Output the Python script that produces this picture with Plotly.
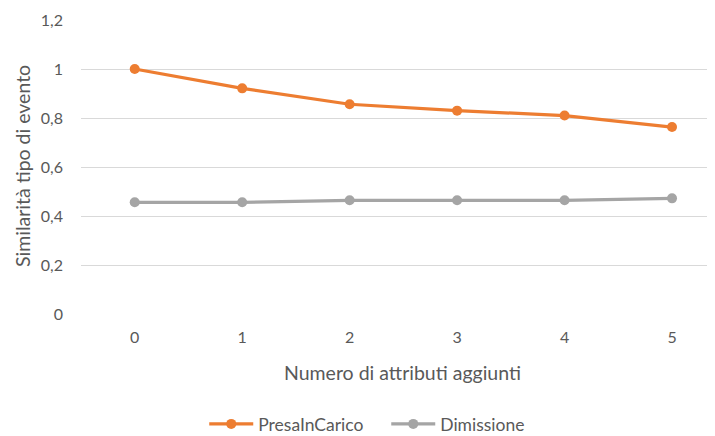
import plotly.graph_objects as go

categories = ["0", "1", "2", "3", "4", "5"]
presa_in_carico = [1.0, 0.921, 0.856, 0.830, 0.810, 0.763]
dimissione = [0.456, 0.456, 0.464, 0.464, 0.464, 0.472]
y_ticks = [0, 0.2, 0.4, 0.6, 0.8, 1.0, 1.2]
y_tick_labels = ["0", "0,2", "0,4", "0,6", "0,8", "1", "1,2"]

FONT = "Lato, 'Open Sans', sans-serif"
TXT = "#595959"

W, H = 707, 428
L, T, R, B = 73, 12, 0, 122
PW, PH = W - L - R, H - T - B

x_idx = list(range(len(categories)))

fig = go.Figure()
fig.add_trace(go.Scatter(x=x_idx, y=presa_in_carico, name="PresaInCarico",
                         mode="lines+markers",
                         line=dict(color="#ED7D31", width=3.2),
                         marker=dict(color="#ED7D31", size=10)))
fig.add_trace(go.Scatter(x=x_idx, y=dimissione, name="Dimissione",
                         mode="lines+markers",
                         line=dict(color="#A5A5A5", width=3.2),
                         marker=dict(color="#A5A5A5", size=10)))

fig.update_layout(
    width=W, height=H,
    margin=dict(l=L, r=R, t=T, b=B, autoexpand=False),
    paper_bgcolor="white", plot_bgcolor="white",
    font=dict(family=FONT, color=TXT, size=16),
    showlegend=True,
    legend=dict(orientation="h", xref="container", yref="container",
                x=0.535, xanchor="center", y=12 / H, yanchor="middle",
                font=dict(size=17.5, color=TXT), itemwidth=44, tracegroupgap=0,
                entrywidth=123, entrywidthmode="pixels"),
    xaxis=dict(range=[-0.5, 5.40], tickmode="array", tickvals=x_idx, ticktext=categories,
               showgrid=False, zeroline=False, showline=False, ticks="",
               ticklabelstandoff=12, automargin=False,
               tickfont=dict(size=16, color=TXT), fixedrange=True),
    yaxis=dict(range=[0, 1.2], tickmode="array", tickvals=y_ticks, ticktext=y_tick_labels,
               showgrid=True, gridcolor="#D9D9D9", gridwidth=1, zeroline=False,
               showline=False, ticks="", ticklabelstandoff=17, automargin=False,
               tickfont=dict(size=16, color=TXT)),
    annotations=[
        dict(text="Numero di attributi aggiunti", xref="paper", yref="paper",
             x=(395 - L) / PW, y=(PH + T - 364) / PH, xanchor="center", yanchor="middle",
             showarrow=False, font=dict(size=19.5, color=TXT)),
        dict(text="Similarità tipo di evento", xref="paper", yref="paper",
             x=(14 - L) / PW, y=(PH + T - 158) / PH, xanchor="center", yanchor="middle",
             textangle=-90, showarrow=False, font=dict(size=19.5, color=TXT)),
    ],
)

fig.write_html("out.html")
